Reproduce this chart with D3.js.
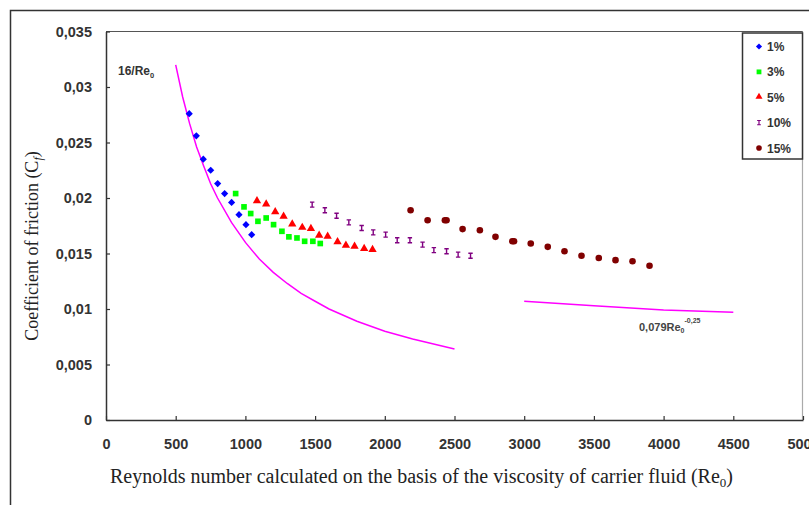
<!DOCTYPE html>
<html>
<head>
<meta charset="utf-8">
<script src="https://d3js.org/d3.v7.min.js"></script>
<style>
body { margin: 0; background: #fff; }
.tick text { font-family: "Liberation Sans", Arial, sans-serif; font-weight: bold; font-size: 14.5px; fill: #333; }
.domain { stroke: #333; stroke-width: 1.5; }
.tick line { stroke: #333; stroke-width: 1.2; }
</style>
</head>
<body>
<div id="chart"></div>
<script>

var width = 809;
var height = 505;

// Series (Re0, Cf)
var re1 = [597, 648, 698, 751, 801, 851, 901, 954, 1004, 1045];
var cf1 = [0.0276, 0.0256, 0.0235, 0.0225, 0.0213, 0.0204, 0.0196, 0.0185, 0.0176, 0.0167];

var re3 = [930, 990, 1038, 1090, 1149, 1202, 1262, 1312, 1370, 1425, 1484, 1537];
var cf3 = [0.0204, 0.0192, 0.0186, 0.0179, 0.0182, 0.0176, 0.0170, 0.0165, 0.0164, 0.0161, 0.0161, 0.0159];

var re5 = [1083, 1149, 1214, 1274, 1336, 1408, 1470, 1529, 1590, 1661, 1721, 1783, 1852, 1912];
var cf5 = [0.0197, 0.0194, 0.0187, 0.0183, 0.0176, 0.0173, 0.0172, 0.0166, 0.0165, 0.0160, 0.0157, 0.0156, 0.0154, 0.0153];

var re10 = [1479, 1570, 1654, 1742, 1834, 1917, 2006, 2089, 2180, 2271, 2352, 2443, 2526, 2615];
var cf10 = [0.0194, 0.0189, 0.0184, 0.0178, 0.0173, 0.0169, 0.0167, 0.0162, 0.0162, 0.0158, 0.0153, 0.0152, 0.0149, 0.0148];

var re15 = [2185, 2307, 2431, 2443, 2558, 2682, 2794, 2915, 2927, 3047, 3169, 3289, 3411, 3535, 3655, 3777, 3899];
var cf15 = [0.0189, 0.0180, 0.0180, 0.0180, 0.0172, 0.0171, 0.0165, 0.0161, 0.0161, 0.0159, 0.0156, 0.0152, 0.0148, 0.0146, 0.0144, 0.0143, 0.0139];

// Reference curves
var laminarRe = [500, 550, 600, 650, 700, 750, 800, 900, 1000, 1100, 1200, 1300, 1400, 1500, 1600, 1800, 2000, 2200, 2500];
var laminarCf = [0.0320, 0.0291, 0.0267, 0.0246, 0.0229, 0.0213, 0.0200, 0.0178, 0.0160, 0.0145, 0.0133, 0.0123, 0.0114, 0.0107, 0.0100, 0.0089, 0.0080, 0.0073, 0.0064];
var turbRe = [3000, 3500, 4000, 4500];
var turbCf = [0.0107, 0.0103, 0.0099, 0.0097];

var xTicks = [0, 500, 1000, 1500, 2000, 2500, 3000, 3500, 4000, 4500, 5000];
var yTicks = [0, 0.005, 0.01, 0.015, 0.02, 0.025, 0.03, 0.035];
var yTickLabels = ["0", "0,005", "0,01", "0,015", "0,02", "0,025", "0,03", "0,035"];

var seriesNames = ["1%", "3%", "5%", "10%", "15%"];
var seriesColors = ["#0000ff", "#00ff00", "#ff0000", "#800080", "#800000"];

var svg = d3.select("#chart").append("svg")
  .attr("width", width).attr("height", height);

var xScale = d3.scaleLinear().domain([0, 5000]).range([106, 803]);
var yScale = d3.scaleLinear().domain([0, 0.035]).range([420, 31.5]);

// outer frame
svg.append("path")
  .attr("d", "M10.5," + height + "V10.5H" + width)
  .style("fill", "none").style("stroke", "#333").style("stroke-width", 1.5);

// plot frame, top and right
svg.append("line").attr("x1", 106).attr("x2", 803).attr("y1", 31.5).attr("y2", 31.5)
  .style("stroke", "#555").style("stroke-width", 1.2);
svg.append("line").attr("x1", 802.5).attr("x2", 802.5).attr("y1", 31.5).attr("y2", 420)
  .style("stroke", "#aaa").style("stroke-width", 1.2);

var xAxis = d3.axisBottom(xScale).tickValues(xTicks).tickSizeInner(-4).tickSizeOuter(0).tickPadding(19)
  .tickFormat(d3.format("d"));
svg.append("g").attr("transform", "translate(0,420)").call(xAxis);

var yAxis = d3.axisLeft(yScale).tickValues(yTicks).tickSizeInner(-4).tickSizeOuter(0).tickPadding(14)
  .tickFormat(function (d, i) { return yTickLabels[i]; });
svg.append("g").attr("transform", "translate(106,0)").call(yAxis);

// axis titles
var xTitle = svg.append("text")
  .attr("x", 110).attr("y", 483)
  .style("font-family", "'Liberation Serif', 'Times New Roman', serif")
  .style("font-size", "20px").style("fill", "#222");
xTitle.append("tspan").text("Reynolds number calculated on the basis of the viscosity of carrier fluid (Re");
xTitle.append("tspan").attr("dy", 4).style("font-size", "13px").text("0");
xTitle.append("tspan").attr("dy", -4).text(")");

var yTitle = svg.append("text")
  .attr("transform", "translate(38,246) rotate(-90)")
  .attr("text-anchor", "middle")
  .style("font-family", "'Liberation Serif', 'Times New Roman', serif")
  .style("font-size", "18px").style("fill", "#222");
yTitle.append("tspan").text("Coefficient of friction (C");
yTitle.append("tspan").attr("dy", 4).style("font-size", "12px").style("font-style", "italic").text("f");
yTitle.append("tspan").attr("dy", -4).text(")");

// reference curves
var line = d3.line().x(function (d) { return xScale(d[0]); }).y(function (d) { return yScale(d[1]); });
[[laminarRe, laminarCf], [turbRe, turbCf]].forEach(function (c) {
  svg.append("path")
    .datum(d3.zip(c[0], c[1]))
    .attr("d", line)
    .style("fill", "none").style("stroke", "#ff00ff").style("stroke-width", 1.5);
});

// annotations
var ann1 = svg.append("text").attr("x", 118).attr("y", 75)
  .style("font-family", "'Liberation Sans', Arial, sans-serif").style("font-weight", "bold")
  .style("font-size", "12px").style("fill", "#333");
ann1.append("tspan").text("16/Re");
ann1.append("tspan").attr("dy", 3).style("font-size", "7.5px").text("0");

var ann2 = svg.append("text").attr("x", 639).attr("y", 331)
  .style("font-family", "'Liberation Sans', Arial, sans-serif").style("font-weight", "bold")
  .style("font-size", "11px").style("fill", "#444");
ann2.append("tspan").text("0,079Re");
ann2.append("tspan").attr("dy", 2).style("font-size", "7px").text("0");
ann2.append("tspan").attr("dy", -10).style("font-size", "7px").text("-0,25");

// markers
function drawSymbol(g, i) {
  var c = seriesColors[i];
  if (i === 0) {
    g.append("path").attr("d", d3.symbol(d3.symbolSquare, 26)()).attr("transform", "rotate(45)").style("fill", c);
  } else if (i === 1) {
    g.append("path").attr("d", d3.symbol(d3.symbolSquare, 32)()).style("fill", c);
  } else if (i === 2) {
    g.append("path").attr("d", d3.symbol(d3.symbolTriangle, 30)()).attr("transform", "translate(0,-0.5)").style("fill", c);
  } else if (i === 3) {
    g.append("path").attr("d", "M-2.2,-2.5H2.2M0,-2.5V2.5M-2.2,2.5H2.2")
      .style("fill", "none").style("stroke", c).style("stroke-width", 1.4);
  } else {
    g.append("circle").attr("r", 3.3).style("fill", c);
  }
}

var allRe = [re1, re3, re5, re10, re15];
var allCf = [cf1, cf3, cf5, cf10, cf15];

allRe.forEach(function (reArr, i) {
  var pts = d3.zip(reArr, allCf[i]);
  svg.append("g").selectAll("g").data(pts).enter().append("g")
    .attr("transform", function (d) { return "translate(" + xScale(d[0]) + "," + yScale(d[1]) + ")"; })
    .each(function () { drawSymbol(d3.select(this), i); });
});

// legend
svg.append("rect").attr("x", 742.5).attr("y", 33).attr("width", 60).attr("height", 126)
  .style("fill", "#fff").style("stroke", "#333").style("stroke-width", 1.5);

var legendY = d3.scalePoint().domain(seriesNames).range([46.5, 148]);
seriesNames.forEach(function (name, i) {
  var g = svg.append("g").attr("transform", "translate(759," + legendY(name) + ") scale(0.85)");
  drawSymbol(g, i);
  svg.append("text").attr("x", 767).attr("y", legendY(name) + 4.5)
    .style("font-family", "'Liberation Sans', Arial, sans-serif").style("font-weight", "bold")
    .style("font-size", "12px").style("fill", "#333")
    .text(name);
});

</script>
</body>
</html>
